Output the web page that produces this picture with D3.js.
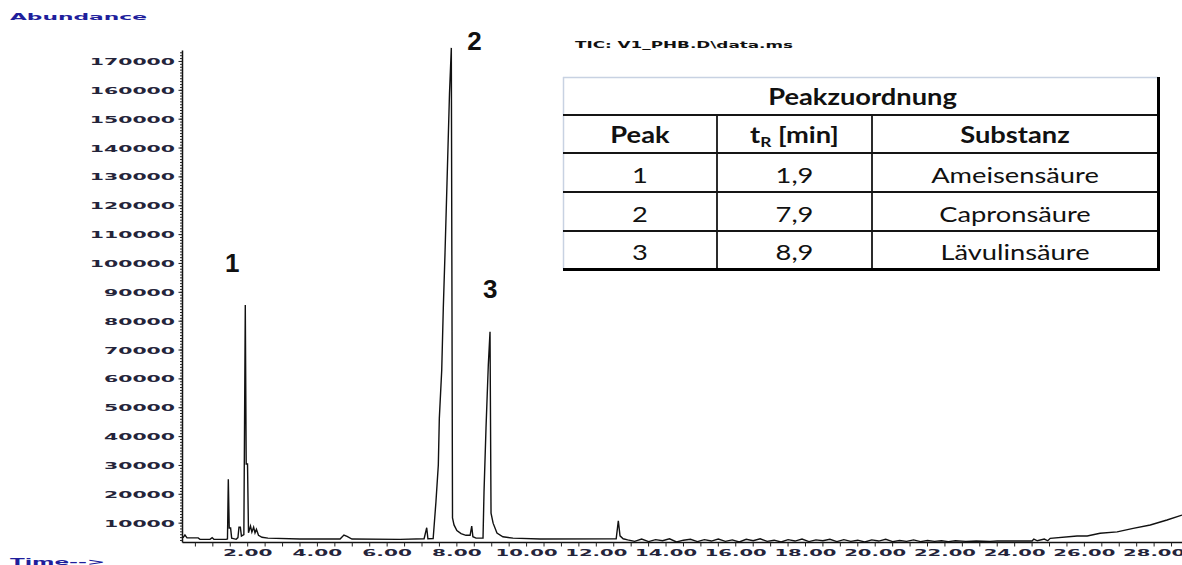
<!DOCTYPE html>
<html>
<head>
<meta charset="utf-8">
<script src="https://cdn.jsdelivr.net/npm/d3@7"></script>
<style>
  body { margin: 0; background: #fff; }
  svg { display: block; }
</style>
</head>
<body>
<svg id="chart" width="1182" height="565"></svg>
<script>
// retention time (min) and abundance
const times = [
  0.14, 0.20, 0.26, 0.58, 0.63, 0.92, 0.98, 1.03, 1.38, 1.42, 1.444, 1.47, 1.51, 1.54,
  1.67, 1.72, 1.75, 1.79, 1.82, 1.89, 1.931, 1.957, 1.995, 2.023, 2.08, 2.12, 2.17, 2.21,
  2.25, 2.31, 2.41, 2.58, 3.50, 4.65, 4.76, 4.85, 4.99, 6.37, 7.06, 7.135, 7.17, 7.32,
  7.40, 7.468, 7.497, 7.566, 7.611, 7.66, 7.717, 7.789, 7.841, 7.875, 7.918, 8.00, 8.12,
  8.26, 8.38, 8.426, 8.46, 8.55, 8.75, 8.779, 8.836, 8.902, 8.951, 8.98, 9.04, 9.15,
  9.32, 9.61, 10.39, 12.57, 12.631, 12.68, 12.77,
  12.9, 13.1, 13.3, 13.5, 13.7, 13.9, 14.1, 14.3, 14.5, 14.7, 14.9, 15.1, 15.3, 15.5,
  15.7, 15.9, 16.1, 16.3, 16.5, 16.7, 16.9, 17.1, 17.3, 17.5, 17.7, 17.9, 18.1, 18.3,
  18.5, 18.7, 18.9, 19.1, 19.3, 19.5, 19.7, 19.9, 20.1, 20.3, 20.5, 20.7, 20.9, 21.1,
  21.3, 21.5, 21.7, 21.9, 22.1, 22.3, 22.6, 22.9, 23.3, 23.5, 24.5, 24.55, 24.65, 24.85,
  24.95, 25.02, 25.79, 26.08, 26.45, 26.94, 27.40, 27.89, 28.37, 28.80
];
const abundance = [
  4900, 5900, 4900, 4900, 4400, 4400, 5000, 4400, 4400, 4500, 25200, 8300, 8300, 4800,
  4400, 5000, 8600, 8600, 5500, 6000, 85600, 30500, 30500, 6700, 9000, 6900, 8600, 6600,
  7900, 5800, 5100, 4800, 4500, 4500, 5900, 5400, 4500, 4400, 4600, 8400, 4600, 4700,
  17400, 30150, 46400, 63100, 84600, 103600, 127900, 159100, 174700, 11800, 9400, 7450, 6400,
  5800, 5800, 9000, 5300, 4800, 4800, 20900, 43000, 64800, 76300, 13500, 10000, 6600,
  5300, 4800, 4500, 4600, 10800, 5600, 4600,
  4200, 3700, 4500, 3600, 4300, 3900, 4600, 3500, 4100, 4400, 3600, 4300, 3800, 4500,
  3700, 4200, 3500, 4400, 3900, 4600, 3700, 4100, 3500, 4300, 3800, 4500, 3600, 4200,
  3900, 4400, 3600, 4300, 3700, 4100, 3500, 4200, 3800, 4400, 3600, 4000, 3700, 4200,
  3600, 4000, 3700, 3900, 3600, 3900, 3700, 3800, 3700, 3800, 3800, 4500, 3900, 4500,
  3900, 4750, 5550, 5550, 6500, 7000, 8200, 9350, 11100, 12800
];

const yTickValues = d3.range(10000, 170001, 10000);
const yMinorValues = d3.range(4000, 173001, 1000);
const xTickValues = d3.range(2, 29, 2);
const xMinorValues = d3.range(0.5, 28.6, 0.5);

const tableTitle = "Peakzuordnung";
const tableHeader = ["Peak", "tR [min]", "Substanz"];
const peakNumbers = ["1", "2", "3"];
const peakTimes = ["1,9", "7,9", "8,9"];
const substances = ["Ameisensäure", "Capronsäure", "Lävulinsäure"];

const svg = d3.select("#chart");

const x = d3.scaleLinear().domain([0.13, 28.8]).range([182.5, 1182]);
const y = d3.scaleLinear().domain([3300, 173800]).range([542.5, 50.5]);

const tickFont = "'DejaVu Sans', sans-serif";
const tickColor = "#24243a";

// squashed, stretched bitmap-looking labels like the ChemStation printout
function wideText(sel, perChar) {
  sel.attr("textLength", function () { return this.textContent.length * perChar; })
     .attr("lengthAdjust", "spacingAndGlyphs");
}

// ---- y axis ----
const yAxis = svg.append("g");
yAxis.append("line")
  .attr("x1", x.range()[0]).attr("x2", x.range()[0])
  .attr("y1", y.range()[1]).attr("y2", y.range()[0])
  .attr("stroke", "#111").attr("stroke-width", 1.5);
yAxis.selectAll("line.minor")
  .data(yMinorValues)
  .enter().append("line")
  .attr("class", "minor")
  .attr("x1", x.range()[0] - 2.5).attr("x2", x.range()[0])
  .attr("y1", d => y(d)).attr("y2", d => y(d))
  .attr("stroke", "#222").attr("stroke-width", 1);
yAxis.selectAll("line.major")
  .data(yTickValues)
  .enter().append("line")
  .attr("class", "major")
  .attr("x1", x.range()[0] - 4).attr("x2", x.range()[0])
  .attr("y1", d => y(d)).attr("y2", d => y(d))
  .attr("stroke", "#222").attr("stroke-width", 1);
yAxis.selectAll("text")
  .data(yTickValues)
  .enter().append("text")
  .attr("x", 175)
  .attr("y", d => y(d) + 3.5)
  .attr("text-anchor", "end")
  .attr("font-family", tickFont)
  .attr("font-weight", "bold")
  .attr("font-size", 9.5)
  .attr("fill", tickColor)
  .text(d => String(d))
  .call(wideText, 14.2);

// ---- x axis ----
const xAxis = svg.append("g");
xAxis.append("line")
  .attr("x1", x.range()[0]).attr("x2", x.range()[1])
  .attr("y1", y.range()[0]).attr("y2", y.range()[0])
  .attr("stroke", "#111").attr("stroke-width", 1.5);
xAxis.selectAll("line.minor")
  .data(xMinorValues)
  .enter().append("line")
  .attr("x1", d => x(d)).attr("x2", d => x(d))
  .attr("y1", y.range()[0]).attr("y2", y.range()[0] + 4)
  .attr("stroke", "#222").attr("stroke-width", 1);
xAxis.selectAll("text")
  .data(xTickValues)
  .enter().append("text")
  .attr("x", d => x(d))
  .attr("y", 555.5)
  .attr("text-anchor", "middle")
  .attr("font-family", tickFont)
  .attr("font-weight", "bold")
  .attr("font-size", 9)
  .attr("fill", tickColor)
  .text(d => d.toFixed(2))
  .call(wideText, 12.4);

// axis titles
svg.append("text")
  .attr("x", 10).attr("y", 20)
  .attr("font-family", tickFont).attr("font-weight", "bold").attr("font-size", 8.5)
  .attr("fill", "#1f1f9c")
  .attr("textLength", 137).attr("lengthAdjust", "spacingAndGlyphs")
  .text("Abundance");
svg.append("text")
  .attr("x", 10).attr("y", 564.5)
  .attr("font-family", tickFont).attr("font-weight", "bold").attr("font-size", 8)
  .attr("fill", "#1f1f9c")
  .attr("textLength", 95).attr("lengthAdjust", "spacingAndGlyphs")
  .text("Time-->");
svg.append("text")
  .attr("x", 575).attr("y", 47.5)
  .attr("font-family", tickFont).attr("font-weight", "bold").attr("font-size", 8.5)
  .attr("fill", "#111")
  .attr("textLength", 218).attr("lengthAdjust", "spacingAndGlyphs")
  .text("TIC: V1_PHB.D\\data.ms");

// ---- chromatogram trace ----
const line = d3.line()
  .x(d => x(d[0]))
  .y(d => y(d[1]));
svg.append("path")
  .datum(d3.zip(times, abundance))
  .attr("d", line)
  .attr("fill", "none")
  .attr("stroke", "#111")
  .attr("stroke-width", 1.4)
  .attr("stroke-linejoin", "miter");

// ---- peak numbers ----
const labelOffsets = [[-12, -33], [21, 2], [2, -34]];
peakNumbers.forEach((p, i) => {
  const tr = +peakTimes[i].replace(",", ".");
  const apex = d3.max(times.map((t, j) => Math.abs(t - tr) < 0.15 ? abundance[j] : 0));
  svg.append("text")
    .attr("x", x(tr) + labelOffsets[i][0])
    .attr("y", y(apex) + labelOffsets[i][1])
    .attr("text-anchor", "middle")
    .attr("font-family", "'Liberation Sans', Arial, sans-serif")
    .attr("font-weight", "bold")
    .attr("font-size", 26)
    .attr("fill", "#111")
    .text(p);
});

// ---- Peakzuordnung table ----
const rowsY = [77, 115, 153, 192, 231, 269];
const colsX = [563, 717, 872, 1158];
const table = svg.append("g");
table.append("rect")
  .attr("x", colsX[0]).attr("y", rowsY[0])
  .attr("width", colsX[3] - colsX[0]).attr("height", rowsY[5] - rowsY[0])
  .attr("fill", "#fff");
table.append("line")
  .attr("x1", colsX[0]).attr("x2", colsX[3]).attr("y1", rowsY[0] + 0.5).attr("y2", rowsY[0] + 0.5)
  .attr("stroke", "#c8d2e2").attr("stroke-width", 1.5);
table.append("line")
  .attr("x1", colsX[0] + 0.5).attr("x2", colsX[0] + 0.5).attr("y1", rowsY[0]).attr("y2", rowsY[5])
  .attr("stroke", "#c8d2e2").attr("stroke-width", 1.5);
table.selectAll("line.h")
  .data(rowsY.slice(1, 5))
  .enter().append("line")
  .attr("x1", colsX[0]).attr("x2", colsX[3])
  .attr("y1", d => d).attr("y2", d => d)
  .attr("stroke", "#151515").attr("stroke-width", 2);
table.selectAll("line.v")
  .data(colsX.slice(1, 3))
  .enter().append("line")
  .attr("x1", d => d).attr("x2", d => d)
  .attr("y1", rowsY[1]).attr("y2", rowsY[5])
  .attr("stroke", "#151515").attr("stroke-width", 1.8);
table.append("line")
  .attr("x1", colsX[3] + 0.5).attr("x2", colsX[3] + 0.5).attr("y1", rowsY[0]).attr("y2", rowsY[5] + 2)
  .attr("stroke", "#000").attr("stroke-width", 3);
table.append("line")
  .attr("x1", colsX[0]).attr("x2", colsX[3] + 2).attr("y1", rowsY[5] + 0.5).attr("y2", rowsY[5] + 0.5)
  .attr("stroke", "#000").attr("stroke-width", 3);

const cellFont = "Lato, 'Open Sans', sans-serif";
const stretch = 1.24;
function cellText(cx, baseline, bold) {
  return table.append("text")
    .attr("x", cx).attr("y", baseline)
    .attr("text-anchor", "middle")
    .attr("font-family", cellFont)
    .attr("font-weight", bold ? "bold" : "normal")
    .attr("font-size", 22)
    .attr("fill", "#111");
}
function fit(t) {
  const w = t.node().getComputedTextLength();
  t.attr("textLength", w * stretch).attr("lengthAdjust", "spacingAndGlyphs");
}
const colMid = i => (colsX[i] + colsX[i + 1]) / 2;

fit(cellText((colsX[0] + colsX[3]) / 2 + 2, rowsY[1] - 10, true).text(tableTitle));
tableHeader.forEach((h, i) => {
  const t = cellText(colMid(i), rowsY[2] - 10, true);
  if (h.startsWith("tR")) {
    t.append("tspan").text("t");
    t.append("tspan").attr("font-size", 14).attr("dy", 4).text("R");
    t.append("tspan").attr("dy", -4).text(h.slice(2));
  } else {
    t.text(h);
  }
  fit(t);
});
peakNumbers.forEach((p, i) => {
  const base = rowsY[i + 3] - 9;
  fit(cellText(colMid(0), base, false).text(p));
  fit(cellText(colMid(1), base, false).text(peakTimes[i]));
  fit(cellText(colMid(2), base, false).text(substances[i]));
});
</script>
</body>
</html>
